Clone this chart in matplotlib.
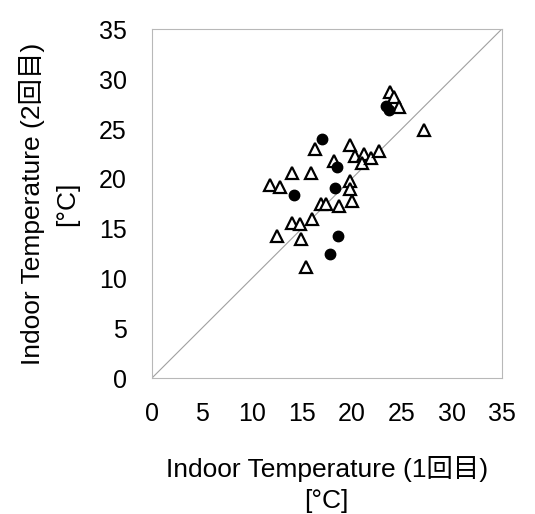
import numpy as np
import matplotlib.pyplot as plt

plt.rcParams['font.family'] = ['Liberation Sans', 'Noto Sans CJK JP', 'DejaVu Sans']

# open triangles: (1st, 2nd) measurement
tri_x = [11.8, 12.8, 14.0, 15.9, 16.3, 18.2, 19.8, 20.3, 21.2, 21.0, 21.9, 22.7,
         19.8, 19.8, 20.0, 16.9, 17.4, 18.7, 16.0, 14.0, 14.8, 12.5, 14.9, 15.4,
         27.2, 23.8, 24.2, 24.7]
tri_y = [19.4, 19.2, 20.6, 20.6, 23.0, 21.8, 23.4, 22.3, 22.5, 21.6, 22.1, 22.8,
         19.8, 19.0, 17.8, 17.5, 17.5, 17.3, 16.0, 15.6, 15.5, 14.3, 14.0, 11.2,
         24.9, 28.7, 28.2, 27.2]

# filled circles
dot_x = [17.0, 14.2, 18.3, 18.5, 18.6, 17.8, 23.4, 23.7]
dot_y = [24.0, 18.4, 19.1, 21.2, 14.3, 12.5, 27.3, 26.9]

fig = plt.figure(figsize=(5.35, 5.14), dpi=100)
ax = fig.add_axes([0.2835, 0.264, 0.654, 0.679])

ax.plot([0, 35], [0, 35], color='#a0a0a0', lw=0.8, zorder=1)
ax.plot(tri_x, tri_y, ls='none', marker='^', ms=9, mfc='white', mec='black',
        mew=1.6, zorder=3)
ax.plot(dot_x, dot_y, ls='none', marker='o', ms=7.5, mfc='black', mec='black',
        zorder=4)

ax.set_xlim(0, 35)
ax.set_ylim(0, 35)
ax.set_xticks(np.arange(0, 36, 5))
ax.set_yticks(np.arange(0, 36, 5))
ax.tick_params(length=0, labelsize=18)
ax.tick_params(axis='x', pad=17)
ax.tick_params(axis='y', pad=18)
for s in ax.spines.values():
    s.set_color('#b8b8b8')
    s.set_linewidth(0.8)

ax.set_xlabel('Indoor Temperature (1回目)\n[°C]', fontsize=19, labelpad=22,
              linespacing=1.35)
ax.set_ylabel('Indoor Temperature (2回目)\n[°C]', fontsize=19, labelpad=14,
              linespacing=1.55)

fig.savefig('out.png', dpi=100)
